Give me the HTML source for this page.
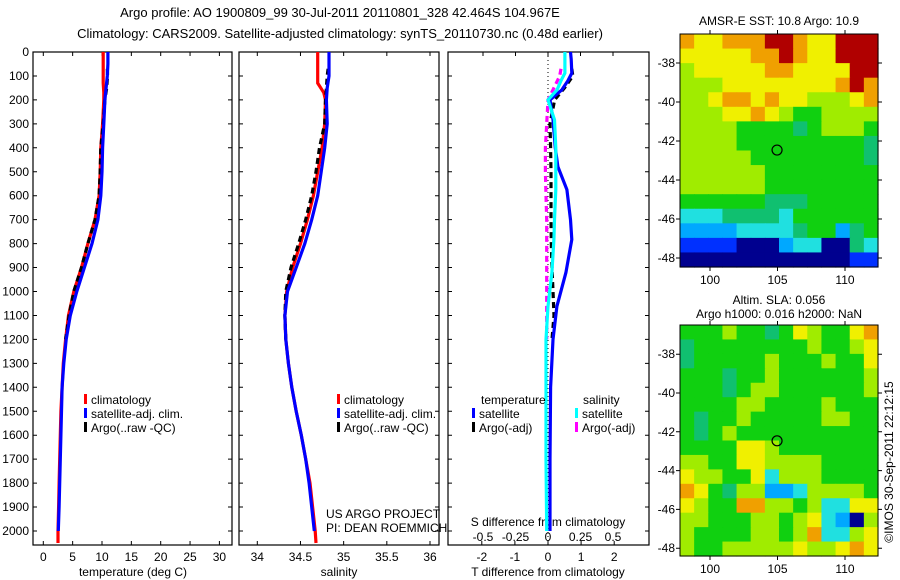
<!DOCTYPE html>
<html><head><meta charset="utf-8">
<style>
html,body{margin:0;padding:0;background:#fff;}
svg{display:block;font-family:"Liberation Sans",sans-serif;}
text{font-size:12px;fill:#000;}
</style></head>
<body>
<svg id="fig" width="900" height="580" viewBox="0 0 900 580" xmlns="http://www.w3.org/2000/svg">
<text x="340" y="17" text-anchor="middle" style="font-size:13px">Argo profile: AO 1900809_99 30-Jul-2011 20110801_328 42.464S 104.967E</text>
<text x="340" y="38" text-anchor="middle" style="font-size:13px">Climatology: CARS2009. Satellite-adjusted climatology: synTS_20110730.nc (0.48d earlier)</text>
<g id="g"></g>
</svg>
<script>
// ---- data ----
const depthClim = [0,50,100,130,170,200,300,400,500,600,700,800,900,1000,1100,1200,1300,1400,1500,1600,1700,1800,1900,2000,2050];
const tempClim  = [10.2,10.2,10.2,10.2,10.3,10.3,10.1,9.8,9.7,9.5,8.8,7.6,6.5,5.2,4.3,3.8,3.4,3.2,3.0,2.9,2.8,2.7,2.6,2.5,2.5];
const salClim   = [34.70,34.70,34.70,34.70,34.77,34.79,34.78,34.75,34.70,34.65,34.58,34.50,34.41,34.34,34.32,34.33,34.36,34.40,34.45,34.51,34.56,34.61,34.64,34.67,34.68];
const depthSat  = [0,50,100,150,200,300,400,500,600,700,800,900,1000,1100,1200,1300,1400,1500,1600,1700,1800,1900,2000];
const tempSat   = [11.0,11.0,10.9,10.7,10.5,10.3,10.1,10.0,9.8,9.3,8.3,7.0,5.7,4.6,3.9,3.5,3.2,3.1,3.0,2.9,2.8,2.7,2.55];
const salSat    = [34.83,34.83,34.83,34.81,34.80,34.81,34.78,34.74,34.70,34.63,34.55,34.45,34.35,34.32,34.33,34.36,34.40,34.45,34.51,34.56,34.60,34.63,34.66];
const depthArgo = [70,100,150,200,300,400,500,600,700,800,900,1000,1100,1200];
const tempArgo  = [10.9,10.95,10.8,10.5,10.2,9.8,9.7,9.5,8.8,7.6,6.5,5.2,4.4,3.8];
const salArgo   = [34.82,34.81,34.80,34.79,34.78,34.72,34.68,34.63,34.56,34.48,34.39,34.33,34.32,34.33];
const depthDiff = [0,30,88,120,158,200,283,400,479,575,700,783,921,1062,1200,1400,1700,2000];
const dTsat     = [0.68,0.70,0.72,0.60,0.42,0.06,0.15,0.22,0.30,0.57,0.68,0.72,0.54,0.27,0.15,0.08,0.06,0.06];
const dSsat     = [0.13,0.13,0.13,0.10,0.07,0.0,0.05,0.06,0.06,0.06,0.05,0.045,0.03,0.0,-0.015,-0.015,-0.015,-0.01];
const depthDiffArgo = [70,100,150,200,300,400,500,600,700,800,900,1000,1100,1200];
const dTargo    = [0.72,0.75,0.5,0.2,0.06,0.08,0.09,0.09,0.09,0.10,0.12,0.15,0.18,0.12];
const dSargo    = [0.10,0.09,0.045,0.0,-0.01,-0.02,-0.02,-0.015,-0.01,-0.01,-0.01,-0.01,-0.01,-0.01];
const depthTicks = [0,100,200,300,400,500,600,700,800,900,1000,1100,1200,1300,1400,1500,1600,1700,1800,1900,2000];
const tempTicks = [0,5,10,15,20,25,30];
const salTicks = [34,34.5,35,35.5,36];
const salTickLabels = ["34","34.5","35","35.5","36"];
const tdTicks = [-2,-1,0,1,2];
const sdTicks = [-0.5,-0.25,0,0.25,0.5];
const sdTickLabels = ["-0.5","-0.25","0","0.25","0.5"];
const lonTicks = [100,105,110];
const latTicks = [-38,-40,-42,-44,-46,-48];
const sstGrid = [
"87788899877999","77777889877999","67777788777799","66677777777898",
"66788787766678","66677876556666","66665555456665","66665555555554",
"66666555555554","66666655555555","66666655555555","55555544455555",
"33344443555555","22223333455245","11110002330043","00000000000011"];
const slaGrid = [
"55565545765578","45555555565567","45555565556557","55545565555556",
"55545665555556","55556655556555","54556555556655","54565555555555",
"55557765555555","66557766665555","76655736665555","87546622366665",
"76558866563377","66555665673206","65555665683367","65566666766787"];
const levelColors = ["#00008f","#0030ff","#00a8ff","#20e0e0","#10c070","#10d010","#a0ec00","#f0f000","#f0a000","#b00000"];

// ---- helpers ----
const NS="http://www.w3.org/2000/svg";
const G=document.getElementById('g');
function mk(tag,attrs,parent){const e=document.createElementNS(NS,tag);for(const k in attrs)e.setAttribute(k,attrs[k]);(parent||G).appendChild(e);return e;}
const yD = d => 52 + d*0.2395;
const xT = t => 43.3 + 5.87*t;
const xS = s => 257.3 + 86.35*(s-34);
const xTd = v => 548 + 33.1*v;
const xSd = v => 548 + 130*v;
const lonX = l => 710 + 13.5*(l-100);
const lat1Y = l => 102 + 19.5*(-40-l);
const lat2Y = l => 393 + 19.4*(-40-l);

function panel(x0,x1,name){
  const b=mk('rect',{x:x0,y:52,width:x1-x0,height:493,fill:'none',stroke:'#000','stroke-width':1.2});
  
  
  depthTicks.forEach(d=>{
    const t=mk('path',{d:`M${x0},${yD(d)}h4M${x1},${yD(d)}h-4`,stroke:'#000'});
    
    
  });
}
function line(xs,ds,fx,color,name,dash){
  const pts=xs.map((v,i)=>fx(v).toFixed(1)+','+yD(ds[i]).toFixed(1)).join(' ');
  const p=mk('polyline',{points:pts,fill:'none',stroke:color,'stroke-width':3.2});
  if(dash)p.setAttribute('stroke-dasharray',dash);
  
  
}
function txt(x,y,s,name,anchor,size){
  const t=mk('text',{x:x,y:y,'text-anchor':anchor||'start'});
  if(size)t.setAttribute('style','font-size:'+size+'px');
  t.textContent=s;
  
  
  return t;
}
function xticks(vals,labels,fx,ty,name,x0,x1){
  vals.forEach((v,i)=>{
    const t=mk('path',{d:`M${fx(v)},545v-4M${fx(v)},52v4`,stroke:'#000'});
    
    
    txt(fx(v),ty,labels[i],name+'-tick-label','middle');
  });
}
function legendEntry(x,y,color,label,name){
  const r=mk('rect',{x:x,y:y-10,width:3,height:10,fill:color});
  
  
  txt(x+7,y,label,name);
}

// ---- panel 1: temperature ----
panel(33,232,'temperature');
depthTicks.forEach(d=>txt(29,yD(d)+4,String(d),'depth-tick-label','end'));
xticks(tempTicks,tempTicks.map(String),xT,561,'temperature-x',33,232);
txt(133,576,'temperature (deg C)','temperature-x-title','middle');
line(tempClim,depthClim,xT,'#ff0000','temp-climatology-line');
line(tempArgo,depthArgo,xT,'#000','temp-argo-line','6,4');
line(tempSat,depthSat,xT,'#0000ff','temp-satellite-line');
legendEntry(84,404,'#ff0000','climatology','temp-legend-climatology');
legendEntry(84,418,'#0000ff','satellite-adj. clim.','temp-legend-satellite');
legendEntry(84,432,'#000','Argo(..raw -QC)','temp-legend-argo');

// ---- panel 2: salinity ----
panel(239,439,'salinity');
xticks(salTicks,salTickLabels,xS,561,'salinity-x');
txt(339,576,'salinity','salinity-x-title','middle');
line(salClim,depthClim,xS,'#ff0000','sal-climatology-line');
line(salArgo,depthArgo,xS,'#000','sal-argo-line','6,4');
line(salSat,depthSat,xS,'#0000ff','sal-satellite-line');
legendEntry(337,404,'#ff0000','climatology','sal-legend-climatology');
legendEntry(337,418,'#0000ff','satellite-adj. clim.','sal-legend-satellite');
legendEntry(337,432,'#000','Argo(..raw -QC)','sal-legend-argo');
txt(326,518,'US ARGO PROJECT','project-credit');
txt(326,532,'PI: DEAN ROEMMICH','pi-credit');

// ---- panel 3: differences ----
panel(448,649,'difference');
const zl=mk('line',{x1:548,y1:52,x2:548,y2:545,stroke:'#000','stroke-dasharray':'1,3'});


tdTicks.forEach(v=>{
  const t=mk('path',{d:`M${xTd(v)},545v-4`,stroke:'#000'});
  
  
  txt(xTd(v),561,String(v),'t-diff-tick-label','middle');
});
sdTicks.forEach((v,i)=>{
  const t=mk('path',{d:`M${xSd(v)},52v4`,stroke:'#000'});
  
  
  txt(xSd(v),541,sdTickLabels[i],'s-diff-tick-label','middle');
});
txt(548,526,'S difference from climatology','s-diff-x-title','middle');
txt(548,576,'T difference from climatology','t-diff-x-title','middle');
line(dSargo,depthDiffArgo,xSd,'#ff00ff','s-diff-argo-line','6,4');
line(dTargo,depthDiffArgo,xTd,'#000','t-diff-argo-line','6,4');
line(dTsat,depthDiff,xTd,'#0000ff','t-diff-satellite-line');
line(dSsat,depthDiff,xSd,'#00ffff','s-diff-satellite-line');
txt(481,404,'temperature','diff-legend-temperature-heading');
txt(583,404,'salinity','diff-legend-salinity-heading');
legendEntry(472,418,'#0000ff','satellite','diff-legend-t-satellite');
legendEntry(472,432,'#000','Argo(-adj)','diff-legend-t-argo');
legendEntry(575,418,'#00ffff','satellite','diff-legend-s-satellite');
legendEntry(575,432,'#ff00ff','Argo(-adj)','diff-legend-s-argo');

// ---- maps ----
function map(grid,y0,y1,latY,name){
  const x0=680,x1=878,rows=grid.length,cols=grid[0].length;
  const cw=(x1-x0)/cols,rh=(y1-y0)/rows;
  grid.forEach((row,r)=>{for(let c=0;c<cols;c++){
    const lv=+row[c];
    const cell=mk('rect',{x:(x0+c*cw).toFixed(2),y:(y0+r*rh).toFixed(2),width:(cw+0.6).toFixed(2),height:(rh+0.6).toFixed(2),fill:levelColors[lv]});
    
    
  }});
  const b=mk('rect',{x:x0,y:y0,width:x1-x0,height:y1-y0,fill:'none',stroke:'#000'});
  
  
  latTicks.forEach(l=>{
    const t=mk('path',{d:`M${x0},${latY(l)}h-4M${x1},${latY(l)}h4`,stroke:'#000'});
    
    
    txt(675,latY(l)+4,String(l),name+'-lat-label','end');
  });
  lonTicks.forEach(l=>{
    const t=mk('path',{d:`M${lonX(l)},${y1}v4M${lonX(l)},${y0}v-4`,stroke:'#000'});
    
    
    txt(lonX(l),y1+17,String(l),name+'-lon-label','middle');
  });
  const c=mk('circle',{cx:lonX(104.967),cy:latY(-42.464),r:5,fill:'none',stroke:'#000','stroke-width':1.2});
  
  
}
txt(779,25,'AMSR-E SST: 10.8 Argo: 10.9','sst-map-title','middle');
map(sstGrid,34,267,lat1Y,'sst-map');
txt(779,304,'Altim. SLA: 0.056','sla-map-title','middle');
txt(779,318,'Argo h1000: 0.016 h2000: NaN','sla-map-subtitle','middle');
map(slaGrid,325,556,lat2Y,'sla-map');
const stamp=txt(0,0,'©IMOS 30-Sep-2011 22:12:15','imos-timestamp','middle');
stamp.setAttribute('transform','translate(893,462) rotate(-90)');
</script>
</body></html>
